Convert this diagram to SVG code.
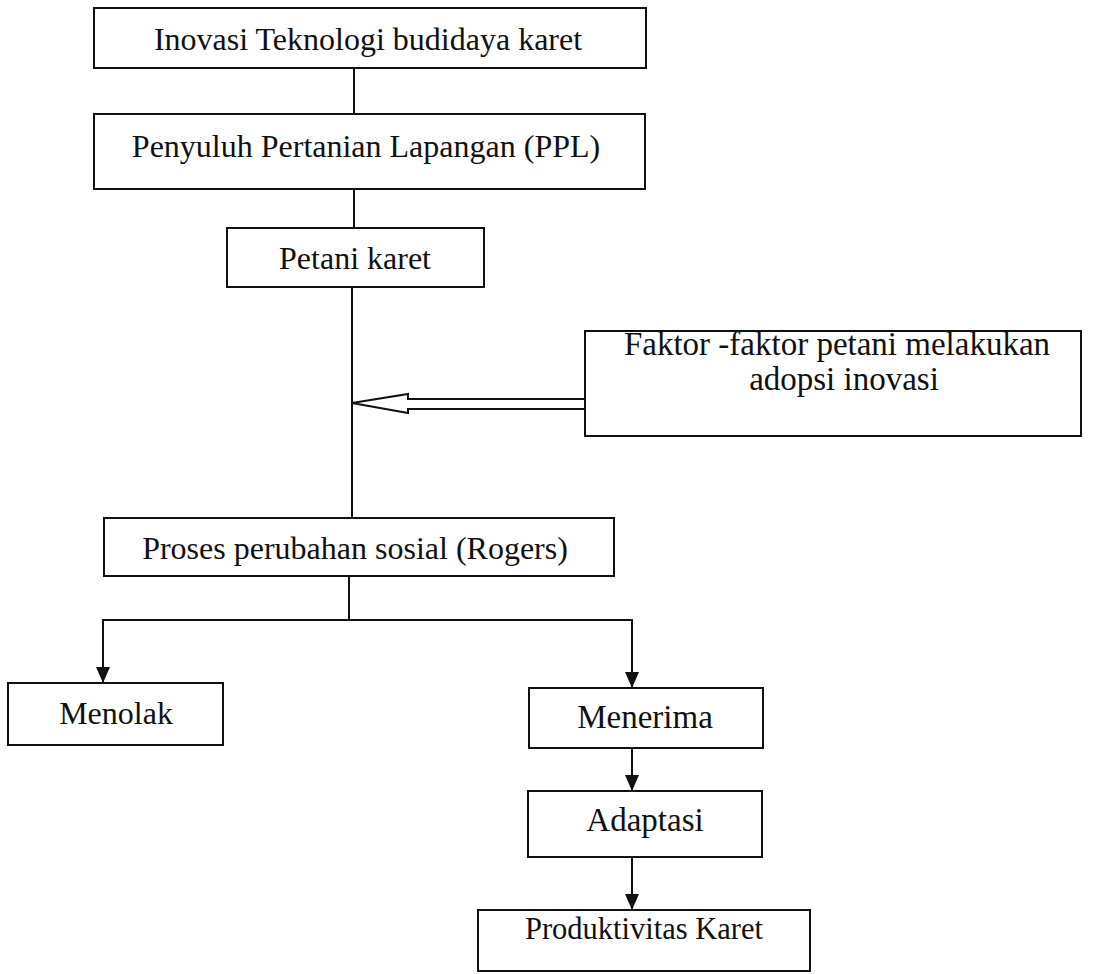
<svg xmlns="http://www.w3.org/2000/svg" width="1093" height="974" viewBox="0 0 1093 974">
<defs>
<style>
.box{fill:#fff;stroke:#111;stroke-width:2}
.t{font-family:"Liberation Serif","Times New Roman",serif;font-size:32px;fill:#111;text-anchor:middle}
.c{fill:none;stroke:#111;stroke-width:2}
</style>
<marker id="ah" markerUnits="userSpaceOnUse" markerWidth="16" markerHeight="16" viewBox="0 0 16 14" refX="16" refY="7" orient="auto">
<path d="M0,0 L16,7 L0,14 Z" fill="#111"/>
</marker>
</defs>
<rect width="1093" height="974" fill="#fff"/>
<g id="connectors">
<line class="c" x1="354" y1="68" x2="354" y2="114"/>
<line class="c" x1="354" y1="189" x2="354" y2="228"/>
<line class="c" x1="352" y1="287" x2="352" y2="518"/>
<polygon class="c" points="352,403 408,394 408,399 586,399 586,409 408,409 408,413" style="fill:#fff"/>
<line class="c" x1="349" y1="576" x2="349" y2="620"/>
<polyline class="c" points="103,620 632,620"/>
<line class="c" x1="103" y1="619" x2="103" y2="683" marker-end="url(#ah)"/>
<line class="c" x1="632" y1="619" x2="632" y2="688" marker-end="url(#ah)"/>
<line class="c" x1="632" y1="748" x2="632" y2="791" marker-end="url(#ah)"/>
<line class="c" x1="632" y1="857" x2="632" y2="910" marker-end="url(#ah)"/>
</g>
<g id="n1"><rect class="box" x="94" y="8" width="552" height="60"/><text class="t" x="368" y="50">Inovasi Teknologi budidaya karet</text></g>
<g id="n2"><rect class="box" x="94" y="114" width="551" height="75"/><text class="t" x="366" y="157">Penyuluh Pertanian Lapangan (PPL)</text></g>
<g id="n3"><rect class="box" x="227" y="228" width="257" height="59"/><text class="t" x="355" y="269">Petani karet</text></g>
<g id="n4"><rect class="box" x="585" y="331" width="496" height="105"/><text class="t" style="font-size:33px" x="837" y="355">Faktor -faktor petani melakukan</text><text class="t" style="font-size:33px" x="844" y="390">adopsi inovasi</text></g>
<g id="n5"><rect class="box" x="104" y="518" width="510" height="58"/><text class="t" x="355" y="559">Proses perubahan sosial (Rogers)</text></g>
<g id="n6"><rect class="box" x="8" y="683" width="215" height="62"/><text class="t" x="116" y="724">Menolak</text></g>
<g id="n7"><rect class="box" x="529" y="688" width="234" height="60"/><text class="t" style="font-size:33px" x="645" y="728">Menerima</text></g>
<g id="n8"><rect class="box" x="528" y="791" width="234" height="66"/><text class="t" style="font-size:33px" x="645" y="831">Adaptasi</text></g>
<g id="n9"><rect class="box" x="478" y="910" width="332" height="61"/><text class="t" style="font-size:30.5px" x="644" y="939">Produktivitas Karet</text></g>
</svg>
